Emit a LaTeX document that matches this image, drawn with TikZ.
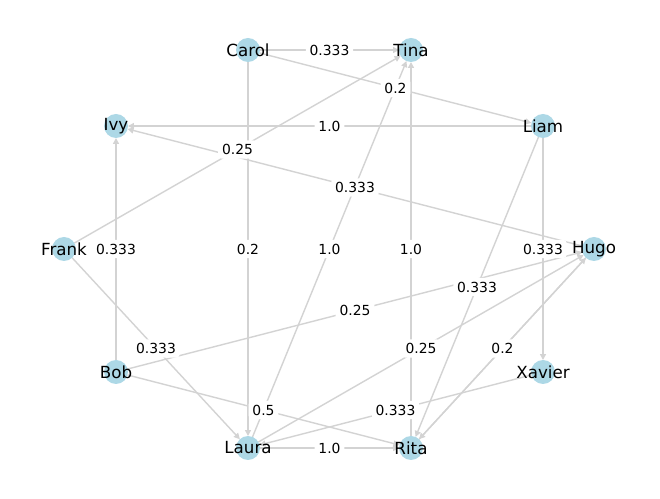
\documentclass[tikz,border=0pt]{standalone}
\usepackage{fontspec}
\setmainfont{DejaVu Sans}
\usetikzlibrary{arrows.meta,backgrounds}

\definecolor{nodeblue}{RGB}{173,216,230}
\definecolor{edgegray}{RGB}{211,211,211}

\begin{document}
\begin{tikzpicture}[
    x=0.02cm, y=-0.02cm,
    person/.style={circle, fill=nodeblue, minimum size=0.48cm, inner sep=0pt, outer sep=0pt,
        label={[font=\fontsize{9.5}{11}\selectfont, inner sep=0pt]center:#1}},
    line/.style={-{Triangle[length=3.4pt, width=3.4pt]}, edgegray, line width=0.8pt},
    weight/.style={midway, fill=white, inner sep=2.2pt, rounded corners=2pt, font=\fontsize{7.9}{9}\selectfont}
]
    \useasboundingbox (0,0) rectangle (660,499);

    \node[person=Carol]  (carol)  at (248,50)  {};
    \node[person=Tina]   (tina)   at (411,50)  {};
    \node[person=Ivy]    (ivy)    at (116,126) {};
    \node[person=Liam]   (liam)   at (543,126) {};
    \node[person=Frank]  (frank)  at (64,249)  {};
    \node[person=Hugo]   (hugo)   at (594,249) {};
    \node[person=Bob]    (bob)    at (116,372) {};
    \node[person=Xavier] (xavier) at (543,372) {};
    \node[person=Laura]  (laura)  at (248,448) {};
    \node[person=Rita]   (rita)   at (411,448) {};

    % edges behind the nodes
    \begin{scope}[on background layer]
    \draw[line] (carol) -- (tina);
    \draw[line] (carol) -- (liam);
    \draw[line] (liam) -- (ivy);
    \draw[line] (frank) -- (tina);
    \draw[line] (hugo) -- (ivy);
    \draw[line] (bob) -- (ivy);
    \draw[line] (carol) -- (laura);
    \draw[line] (laura) -- (tina);
    \draw[line] (rita) -- (tina);
    \draw[line] (liam) -- (xavier);
    \draw[line] (liam) -- (rita);
    \draw[line] (bob) -- (hugo);
    \draw[line] (frank) -- (laura);
    \draw[line] (laura) -- (hugo);
    \draw[line] (rita) -- (hugo);
    \draw[line] (hugo) -- (rita);
    \draw[line] (bob) -- (rita);
    \draw[line] (xavier) -- (laura);
    \draw[line] (laura) -- (rita);
    \end{scope}

    % weights on top
    \path (carol) -- (tina) node[weight] {0.333};
    \path (carol) -- (liam) node[weight] {0.2};
    \path (liam) -- (ivy) node[weight] {1.0};
    \path (frank) -- (tina) node[weight] {0.25};
    \path (hugo) -- (ivy) node[weight] {0.333};
    \path (bob) -- (ivy) node[weight] {0.333};
    \path (carol) -- (laura) node[weight] {0.2};
    \path (laura) -- (tina) node[weight] {1.0};
    \path (rita) -- (tina) node[weight] {1.0};
    \path (liam) -- (xavier) node[weight] {0.333};
    \path (liam) -- (rita) node[weight] {0.333};
    \path (bob) -- (hugo) node[weight] {0.25};
    \path (frank) -- (laura) node[weight] {0.333};
    \path (laura) -- (hugo) node[weight] {0.25};
    \path (rita) -- (hugo) node[weight] {0.2};
    \path (bob) -- (rita) node[weight] {0.5};
    \path (xavier) -- (laura) node[weight] {0.333};
    \path (laura) -- (rita) node[weight] {1.0};
\end{tikzpicture}
\end{document}
